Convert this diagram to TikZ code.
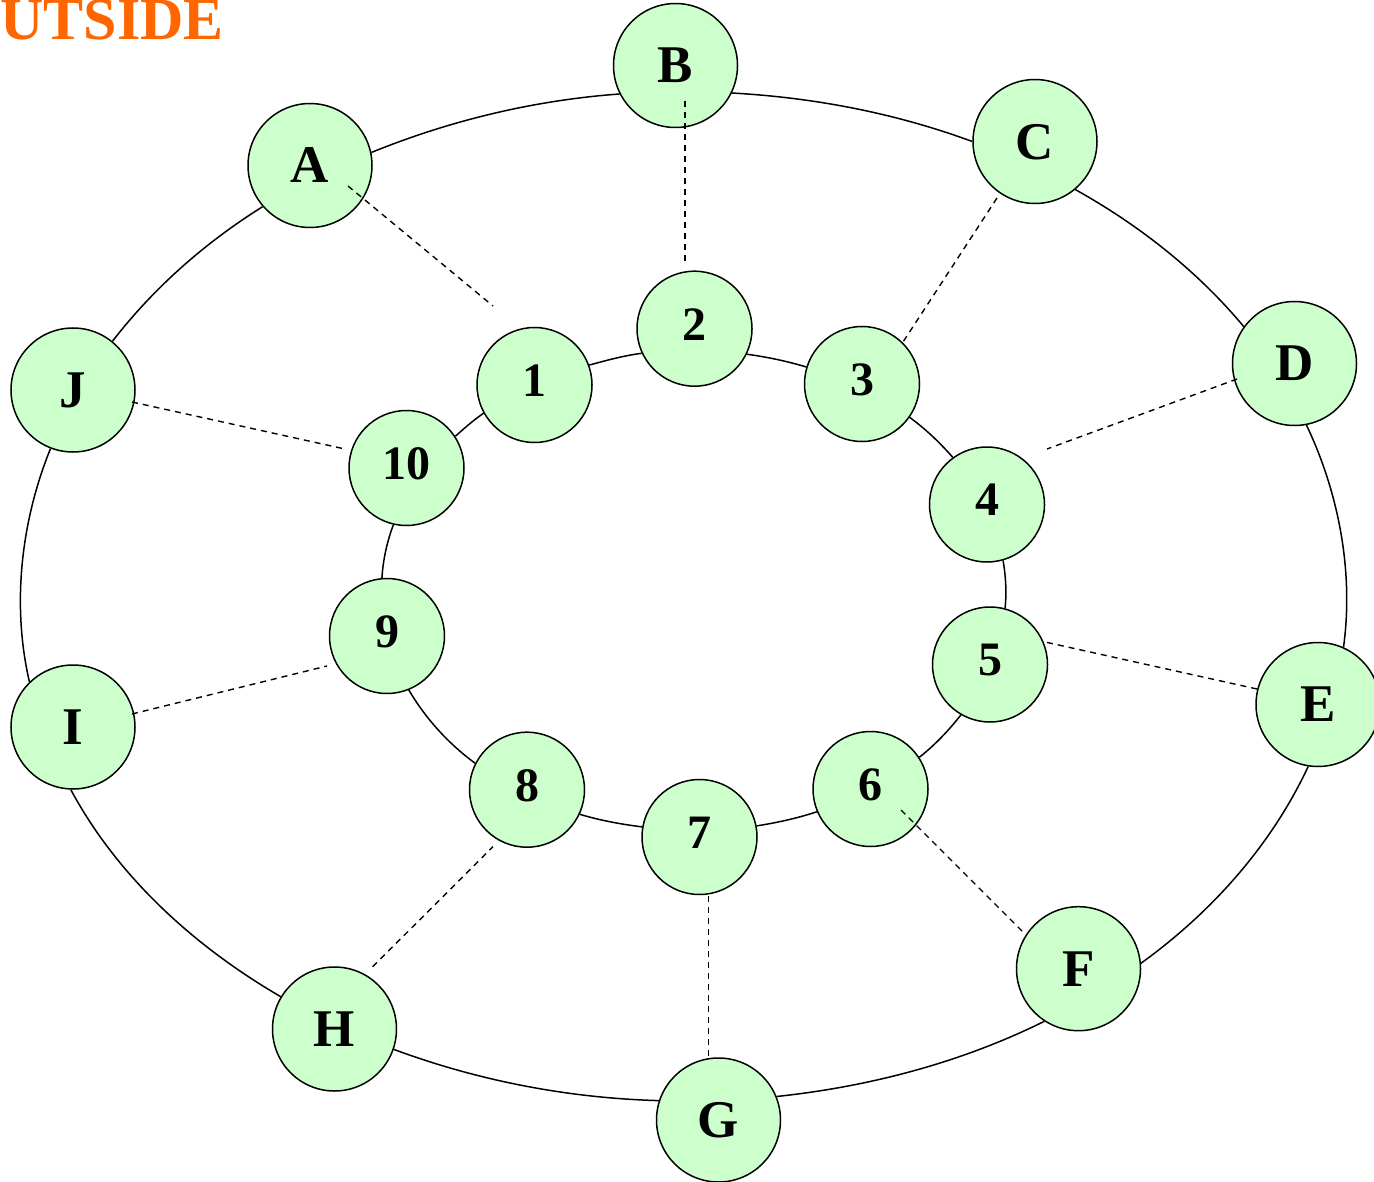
\documentclass[tikz,border=0pt]{standalone}
\usepackage{fontspec}
\setmainfont{Liberation Serif}
\definecolor{nodegreen}{HTML}{CCFFCC}
\definecolor{titleorange}{HTML}{FF6600}
\tikzset{
  ring/.style={line width=1.5pt, looseness=0.86},
  outernode/.style={circle, draw, line width=1.5pt, fill=nodegreen, minimum size=124pt,
    inner sep=0pt, text depth=0pt, font=\fontsize{53pt}{53pt}\selectfont\bfseries},
  innernode/.style={circle, draw, line width=1.5pt, fill=nodegreen, minimum size=115pt,
    inner sep=0pt, text depth=9pt, font=\fontsize{48pt}{48pt}\selectfont\bfseries},
  link/.style={line width=1.4pt, dash pattern=on 6pt off 5pt},
  titletext/.style={anchor=base east, inner sep=0pt, text=titleorange,
    font=\fontsize{60pt}{60pt}\selectfont\bfseries}
}
\begin{document}
\begin{tikzpicture}[x=1pt,y=-1pt]
\useasboundingbox (0,0) rectangle (1374,1182);

\node[titletext] (title) at (224,40) {OUTSIDE};

% outer ring nodes
\node[outernode] (A) at (310,165.5) {A};
\node[outernode] (B) at (675.5,65.5) {B};
\node[outernode] (C) at (1035,141.5) {C};
\node[outernode] (D) at (1294.5,363.5) {D};
\node[outernode] (E) at (1318,704.5) {E};
\node[outernode] (F) at (1078.5,968.7) {F};
\node[outernode] (G) at (718.5,1120) {G};
\node[outernode] (H) at (334.5,1029) {H};
\node[outernode] (I) at (73,727) {I};
\node[outernode] (J) at (73,390) {J};

% inner ring nodes
\node[innernode] (n1) at (534.5,385) {1};
\node[innernode] (n2) at (694.5,328.7) {2};
\node[innernode] (n3) at (862,384) {3};
\node[innernode] (n4) at (987,504.5) {4};
\node[innernode] (n5) at (990,664.5) {5};
\node[innernode] (n6) at (870.5,789) {6};
\node[innernode] (n7) at (699.5,837) {7};
\node[innernode] (n8) at (527,789.7) {8};
\node[innernode] (n9) at (387,636) {9};
\node[innernode] (n10) at (406.5,468) {10};

% outer ring connectors
\draw[ring] (A.12.9) to[out=22.1,in=184.2] (B.207.3);
\draw[ring] (B.-26.3) to[out=-3.2,in=159.8] (C.180.8);
\draw[ring] (C.-50.2) to[out=-29.2,in=129.8] (D.144.1);
\draw[ring] (D.-79) to[out=-64.6,in=82.2] (E.66.2);
\draw[ring] (E.-99.5) to[out=-115,in=35.8] (F.5.6);
\draw[ring] (F.-123.8) to[out=-153.7,in=6.1] (G.22.6);
\draw[ring] (G.162.1) to[out=178.4,in=-20.3] (H.-19.7);
\draw[ring] (H.149.3) to[out=149.8,in=-61.7] (I.-92.5);
\draw[ring] (I.134.3) to[out=103,in=247.9] (J.-111.4);
\draw[ring] (J.51.4) to[out=52.3,in=212] (A.221.3);

% inner ring connectors
\draw[ring] (n1.20.4) to[out=15.2,in=187.3] (n2.205.8);
\draw[ring] (n2.-26.2) to[out=-7.7,in=163.4] (n3.163.4);
\draw[ring] (n3.-35.7) to[out=-36.2,in=131.2] (n4.126.5);
\draw[ring] (n4.-74.4) to[out=-80.1,in=84.1] (n5.75.6);
\draw[ring] (n5.-120.6) to[out=-128.1,in=38.4] (n6.33.6);
\draw[ring] (n6.-157.5) to[out=-161.7,in=9] (n7.11);
\draw[ring] (n7.170.8) to[out=172.8,in=-16.7] (n8.-25.3);
\draw[ring] (n8.153) to[out=143.6,in=-59.5] (n9.-68.1);
\draw[ring] (n9.95.7) to[out=86.4,in=249.4] (n10.-103.2);
\draw[ring] (n10.33.8) to[out=41.8,in=214.5] (n1.-151.3);

% dashed spokes
\draw[link] ([shift={(38,20.5)}]A.center) -- ([shift={(-41.5,-79)}]n1.center);
\draw[link] ([shift={(9.5,36)}]B.center) -- ([shift={(-9.5,-65.7)}]n2.center);
\draw[link] ([shift={(-38,56.5)}]C.center) -- ([shift={(41,-42)}]n3.center);
\draw[link] ([shift={(-57.5,15.5)}]D.center) -- ([shift={(60,-55.5)}]n4.center);
\draw[link] ([shift={(-61,-15.5)}]E.center) -- ([shift={(55,-22.5)}]n5.center);
\draw[link] ([shift={(-56.5,-37.7)}]F.center) -- ([shift={(29.5,20)}]n6.center);
\draw[link] ([shift={(-9.8,-64)}]G.center) -- ([shift={(9.2,59)}]n7.center);
\draw[link] ([shift={(38.2,-62.3)}]H.center) -- ([shift={(-34,57)}]n8.center);
\draw[link] ([shift={(59,-13)}]I.center) -- ([shift={(-60,30)}]n9.center);
\draw[link] ([shift={(59,12)}]J.center) -- ([shift={(-61.5,-19)}]n10.center);
\end{tikzpicture}
\end{document}
